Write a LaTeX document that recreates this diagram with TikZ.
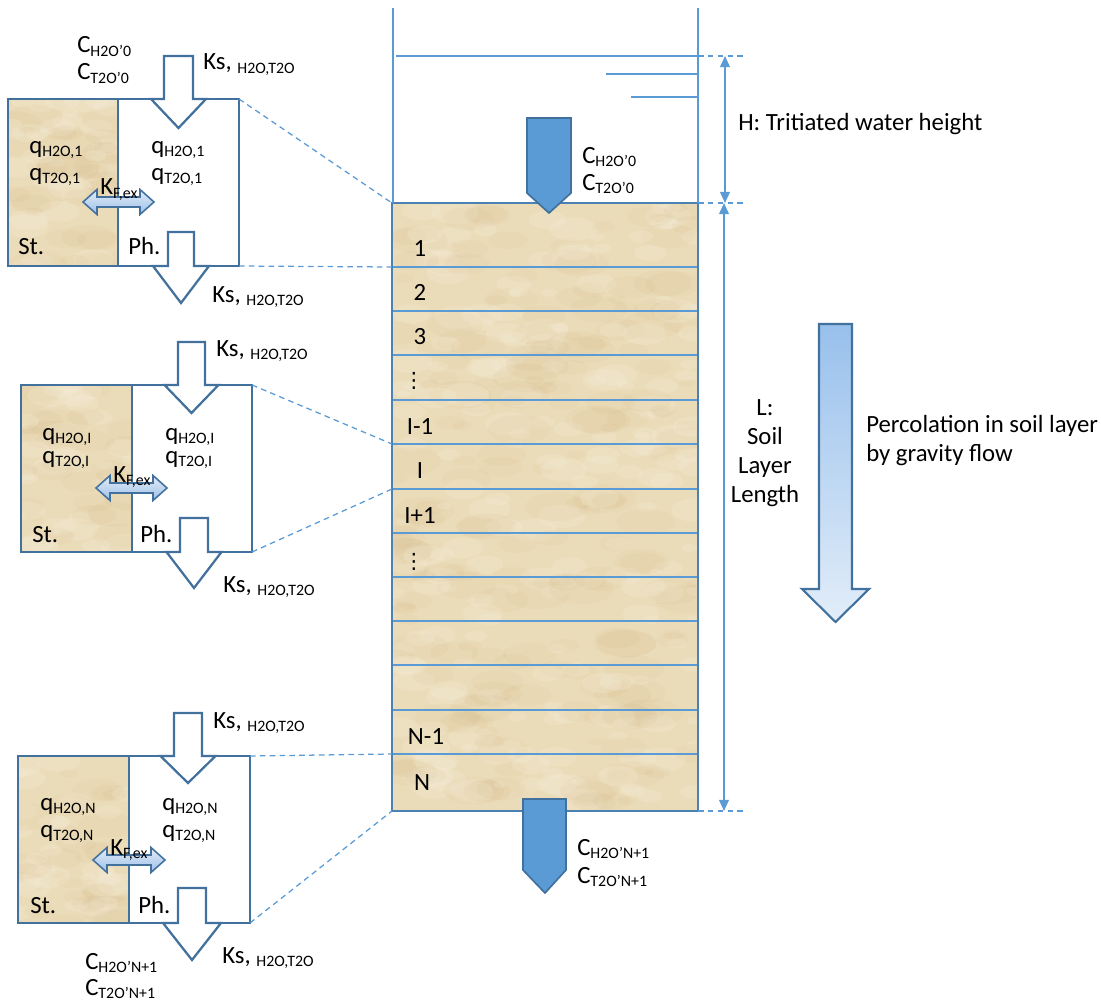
\documentclass[tikz,border=0pt]{standalone}
\usepackage{fontspec}
\setmainfont{Carlito}
\newfontfamily\dejavu{DejaVu Sans}
\usetikzlibrary{arrows.meta}

\definecolor{steel}{HTML}{41719C}
\definecolor{lblue}{HTML}{5B9BD5}
\definecolor{soilbase}{HTML}{EBDCB9}
\definecolor{soildark}{HTML}{D2B582}
\definecolor{soillight}{HTML}{F8F0DE}
\definecolor{kxtop}{HTML}{E2ECF8}
\definecolor{kxbot}{HTML}{9DC0E8}
\definecolor{bigtop}{HTML}{98C0EC}
\definecolor{bigbot}{HTML}{E2EDF9}

\newcommand\lsub[1]{\raisebox{-2.6pt}{\fontsize{11.3}{12}\selectfont #1}}

\newcommand\soilfill[5]{%
  \begin{scope}
    \clip (#1,#2) rectangle (#3,#4);
    \fill[soilbase] (#1,#2) rectangle (#3,#4);
    \foreach \kk in {1,...,#5}{%
      \pgfmathsetmacro\sx{#1+rnd*(#3-#1)}%
      \pgfmathsetmacro\sy{#2+rnd*(#4-#2)}%
      \pgfmathsetmacro\sr{8+rnd*24}%
      \pgfmathsetmacro\sq{0.45*\sr}%
      \fill[soildark,opacity=0.10] (\sx,\sy) ellipse [x radius=\sr, y radius=\sq];
      \pgfmathsetmacro\tx{#1+rnd*(#3-#1)}%
      \pgfmathsetmacro\ty{#2+rnd*(#4-#2)}%
      \pgfmathsetmacro\tr{6+rnd*18}%
      \pgfmathsetmacro\tq{0.5*\tr}%
      \fill[soillight,opacity=0.22] (\tx,\ty) ellipse [x radius=\tr, y radius=\tq];
    }
  \end{scope}}

% hollow block arrow: cx, body half, head half, top, shoulder, tip
\newcommand\harrow[6]{%
  \draw[hollow] ({#1-#2},#4) -- ({#1+#2},#4) -- ({#1+#2},#5) -- ({#1+#3},#5)
    -- (#1,#6) -- ({#1-#3},#5) -- ({#1-#2},#5) -- cycle;}

% exchange double arrow: x1, x2, yc
\newcommand\karrow[3]{%
  \draw[kx] (#1,#3) -- ({#1+14},{#3-12.5}) -- ({#1+14},{#3-5}) -- ({#2-14},{#3-5})
    -- ({#2-14},{#3-12.5}) -- (#2,#3) -- ({#2-14},{#3+12.5}) -- ({#2-14},{#3+5})
    -- ({#1+14},{#3+5}) -- ({#1+14},{#3+12.5}) -- cycle;}

\tikzset{
  txt/.style={font=\fontsize{17.6}{21}\selectfont, inner sep=0pt, anchor=base west},
  ctxt/.style={txt, anchor=base},
  dots/.style={font=\dejavu\fontsize{15}{16}\selectfont, inner sep=0pt, anchor=base},
  boxline/.style={draw=steel, line width=1.8pt},
  hollow/.style={draw=steel, line width=1.6pt, fill=white, line join=miter},
  conn/.style={draw=lblue, line width=0.9pt, dash pattern=on 4pt off 3pt},
  wall/.style={draw=lblue, line width=1pt},
  rowline/.style={draw=lblue, line width=0.8pt},
  coledge/.style={draw=steel!60!lblue, line width=1.3pt},
  dimarrow/.style={draw=lblue, line width=1.3pt,
    {Triangle[width=7pt,length=8pt]}-{Triangle[width=7pt,length=8pt]}},
  kx/.style={draw=steel, line width=1.1pt, top color=kxtop, bottom color=kxbot},
  pent/.style={draw=steel, line width=1.2pt, fill=lblue},
  bigarrow/.style={draw=steel, line width=1.5pt, top color=bigtop, bottom color=bigbot},
}

\begin{document}
\begin{tikzpicture}[x=0.025cm,y=-0.025cm]
\useasboundingbox (0,0) rectangle (1101,1005);
\pgfmathsetseed{12}

% ---------- soil column ----------
\soilfill{392}{203}{698}{811}{200}
\foreach \yy in {267,311,355,400,444,489,533,577,621,665,710,754}
  \draw[rowline] (392,\yy) -- (698,\yy);
\draw[coledge] (392,203) rectangle (698,811);

\coordinate (ctl) at (392,203);
\coordinate (ctr) at (698,203);
\coordinate (cbl) at (392,811);
\coordinate (cbr) at (698,811);
\coordinate (r1b) at (392,267);
\coordinate (rIt) at (392,444);
\coordinate (rIb) at (392,489);
\coordinate (rNt) at (392,754);

% container walls and water surface
\coordinate (wlt) at (393,8);
\coordinate (wrt) at (698,8);
\coordinate (wl0) at (393,203);
\coordinate (ws1) at (396,56);
\coordinate (ws2) at (698,56);
\coordinate (ws3) at (606,74);
\coordinate (ws4) at (698,74);
\coordinate (ws5) at (631,97);
\coordinate (ws6) at (698,97);
\draw[wall] (wlt) -- (wl0);
\draw[wall] (wrt) -- (ctr);
\draw[wall] (ws1) -- (ws2);
\draw[wall] (ws3) -- (ws4);
\draw[wall] (ws5) -- (ws6);

% dimension lines
\coordinate (dh1) at (747,56);
\coordinate (dh2) at (747,203);
\coordinate (dh3) at (747,811);
\draw[conn] (ws2) -- (dh1);
\draw[conn] (ctr) -- (dh2);
\draw[conn] (cbr) -- (dh3);
\coordinate (ha) at (725,56);
\coordinate (hb) at (725,203);
\coordinate (la) at (724,203);
\coordinate (lb) at (724,811);
\draw[dimarrow] (ha) -- (hb);
\draw[dimarrow] (la) -- (lb);

% inflow / outflow pentagon arrows
\draw[pent] (527,118) -- (571,118) -- (571,193) -- (549,213) -- (527,193) -- cycle;
\draw[pent] (523,799) -- (566,799) -- (566,870) -- (545,893) -- (523,870) -- cycle;

% big percolation arrow
\draw[bigarrow] (819,324) -- (852,324) -- (852,589) -- (869,589) -- (835.5,622)
  -- (802,589) -- (819,589) -- cycle;

% column labels
\node[ctxt] (n1) at (420,257) {1};
\node[ctxt] (n2) at (420,300) {2};
\node[ctxt] (n3) at (420,344) {3};
\node[dots] (nd1) at (414,387) {⋮};
\node[ctxt] (nIm) at (420,434) {I-1};
\node[ctxt] (nI) at (420,478) {I};
\node[ctxt] (nIp) at (420,523) {I+1};
\node[dots] (nd2) at (414,568) {⋮};
\node[ctxt] (nNm) at (426,744) {N-1};
\node[ctxt] (nN) at (422,790) {N};

% right side texts
\node[txt] (cin1) at (582,163) {C\lsub{H2O’0}};
\node[txt] (cin2) at (582,190) {C\lsub{T2O’0}};
\node[txt] (cout1) at (577,855) {C\lsub{H2O’N+1}};
\node[txt] (cout2) at (577,883) {C\lsub{T2O’N+1}};
\node[txt] (hlab) at (738,131) {H: Tritiated water height};
\node[ctxt] (l1) at (765,415) {L:};
\node[ctxt] (l2) at (765,444) {Soil};
\node[ctxt] (l3) at (765,473) {Layer};
\node[ctxt] (l4) at (765,502) {Length};
\node[txt] (p1) at (866,432) {Percolation in soil layer};
\node[txt] (p2) at (866,461) {by gravity flow};

% ---------- box 1 (top) ----------
\soilfill{8}{99}{118}{266}{30}
\draw[boxline] (8,99) rectangle (239,266);
\draw[boxline] (118,99) -- (118,266);
\coordinate (b1ne) at (239,99);
\coordinate (b1se) at (239,266);
\draw[conn] (b1ne) -- (ctl);
\draw[conn] (b1se) -- (r1b);
\harrow{178.5}{14.5}{27.5}{56}{99}{128}
\harrow{181}{13}{28}{232}{266}{303}
\karrow{83}{154}{202}
\node[txt] (c0a) at (77,53) {C\lsub{H2O’0}};
\node[txt] (c0b) at (77,80) {C\lsub{T2O’0}};
\node[txt] (ks1a) at (203,70) {Ks, \lsub{H2O,T2O}};
\node[txt] (q1s1) at (29,153) {q\lsub{H2O,1}};
\node[txt] (q1s2) at (29,180) {q\lsub{T2O,1}};
\node[txt] (q1p1) at (151,153) {q\lsub{H2O,1}};
\node[txt] (q1p2) at (151,180) {q\lsub{T2O,1}};
\node[txt] (k1) at (100,195) {K\lsub{F,ex}};
\node[txt] (st1) at (18,255) {St.};
\node[txt] (ph1) at (128,255) {Ph.};
\node[txt] (ks1b) at (212,302) {Ks, \lsub{H2O,T2O}};

% ---------- box 2 (middle) ----------
\soilfill{21}{385}{132}{552}{30}
\draw[boxline] (21,385) rectangle (252,552);
\draw[boxline] (132,385) -- (132,552);
\coordinate (b2ne) at (252,385);
\coordinate (b2se) at (252,552);
\draw[conn] (b2ne) -- (rIt);
\draw[conn] (b2se) -- (rIb);
\harrow{191.5}{13.5}{27}{342}{385}{413}
\harrow{194}{14}{27.5}{518}{552}{588}
\karrow{96}{167}{488}
\node[txt] (ks2a) at (216,356) {Ks, \lsub{H2O,T2O}};
\node[txt] (q2s1) at (42,440) {q\lsub{H2O,I}};
\node[txt] (q2s2) at (42,463) {q\lsub{T2O,I}};
\node[txt] (q2p1) at (165,440) {q\lsub{H2O,I}};
\node[txt] (q2p2) at (165,463) {q\lsub{T2O,I}};
\node[txt] (k2) at (113,482) {K\lsub{F,ex}};
\node[txt] (st2) at (32,542) {St.};
\node[txt] (ph2) at (140,542) {Ph.};
\node[txt] (ks2b) at (223,592) {Ks, \lsub{H2O,T2O}};

% ---------- box 3 (bottom) ----------
\soilfill{18}{756}{129}{923}{30}
\draw[boxline] (18,756) rectangle (250,923);
\draw[boxline] (129,756) -- (129,923);
\coordinate (b3ne) at (250,756);
\coordinate (b3se) at (250,923);
\draw[conn] (b3ne) -- (rNt);
\draw[conn] (b3se) -- (cbl);
\harrow{188}{14}{27.5}{713}{756}{783}
\harrow{192}{14}{29}{888}{923}{960}
\karrow{93}{165}{860}
\node[txt] (ks3a) at (213,728) {Ks, \lsub{H2O,T2O}};
\node[txt] (q3s1) at (40,810) {q\lsub{H2O,N}};
\node[txt] (q3s2) at (40,837) {q\lsub{T2O,N}};
\node[txt] (q3p1) at (162,810) {q\lsub{H2O,N}};
\node[txt] (q3p2) at (162,837) {q\lsub{T2O,N}};
\node[txt] (k3) at (110,855) {K\lsub{F,ex}};
\node[txt] (st3) at (30,913) {St.};
\node[txt] (ph3) at (138,913) {Ph.};
\node[txt] (ks3b) at (222,963) {Ks, \lsub{H2O,T2O}};
\node[txt] (cN1) at (85,969) {C\lsub{H2O’N+1}};
\node[txt] (cN2) at (85,995) {C\lsub{T2O’N+1}};
\end{tikzpicture}
\end{document}
